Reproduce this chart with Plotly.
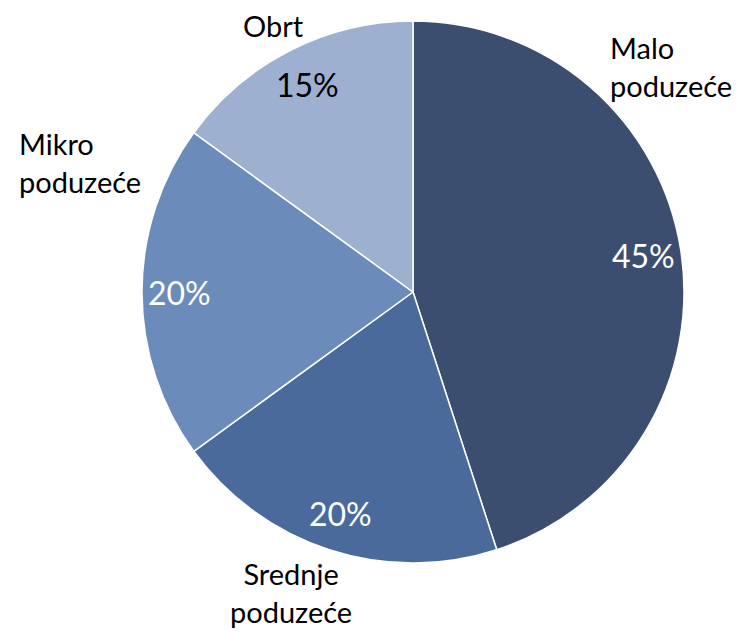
import math
import plotly.graph_objects as go

categories = ['Malo<br>poduzeće', 'Srednje<br>poduzeće', 'Mikro<br>poduzeće', 'Obrt']
shares = [45, 20, 20, 15]
colors = ['#3B4E6F', '#4A6A9B', '#6B8CBA', '#9EB0CF']
text_colors = ['white', 'white', 'white', 'black']

# page body has an 8px margin, so the figure is a bit smaller than the window
OFF = 8
W, H = 744 - OFF, 632 - OFF
cx, cy, r = 413 - OFF, 292 - OFF, 271

fig = go.Figure()
fig.add_trace(go.Pie(
    labels=categories,
    values=shares,
    sort=False,
    direction='clockwise',
    rotation=0,
    marker=dict(colors=colors, line=dict(color='white', width=1.5)),
    textinfo='none',
    domain=dict(x=[(cx - r) / W, (cx + r) / W], y=[(H - cy - r) / H, (H - cy + r) / H]),
    showlegend=False,
    hoverinfo='label+percent',
))

# percentages near the outer edge of each slice (like Excel's data labels)
total = sum(shares)
start = 0
for v, col in zip(shares, text_colors):
    mid = math.radians((start + v / 2) / total * 360)
    start += v
    px = cx + 0.86 * r * math.sin(mid)
    py = cy - 0.86 * r * math.cos(mid)
    fig.add_annotation(
        x=px / W, y=1 - py / H, xref='paper', yref='paper',
        text='%d%%' % round(v / total * 100), showarrow=False,
        xanchor='center', yanchor='middle',
        font=dict(size=32, color=col, family='Lato'),
    )

# category names sit outside the pie, placed as in the source
label_pos = [(608, 66, 'left'), (291, 592, 'center'), (17, 162, 'left'), (273, 25, 'center')]
for name, (x, y, al) in zip(categories, label_pos):
    fig.add_annotation(
        x=(x - OFF) / W, y=1 - (y - OFF) / H, xref='paper', yref='paper',
        text=name, showarrow=False, align=al,
        xanchor=al, yanchor='middle',
        font=dict(size=29, color='black', family='Lato'),
    )

fig.update_layout(
    width=W, height=H,
    margin=dict(l=0, r=0, t=0, b=0),
    paper_bgcolor='white',
    plot_bgcolor='white',
)

fig.write_html('out.html')
